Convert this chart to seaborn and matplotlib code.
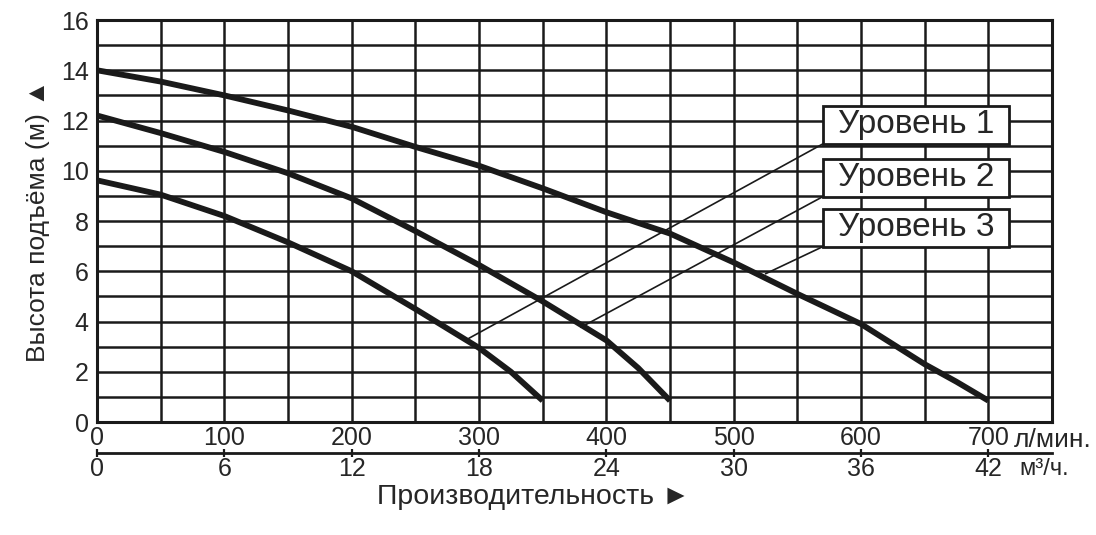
import numpy as np
import pandas as pd
import seaborn as sns
import matplotlib.pyplot as plt
from matplotlib.patches import Rectangle
from matplotlib.ticker import MultipleLocator

# pump curves: flow in l/min, head in m
flow_1 = [0, 50, 100, 150, 200, 250, 300, 325, 350]
head_1 = [9.62, 9.05, 8.2, 7.15, 6.0, 4.5, 2.95, 2.0, 0.85]
flow_2 = [0, 50, 100, 150, 200, 250, 300, 350, 400, 425, 450]
head_2 = [12.2, 11.5, 10.75, 9.9, 8.9, 7.6, 6.25, 4.8, 3.25, 2.15, 0.85]
flow_3 = [0, 50, 100, 150, 200, 250, 300, 350, 400, 450, 500, 550, 600, 650, 675, 700]
head_3 = [14.0, 13.55, 13.0, 12.4, 11.75, 10.95, 10.2, 9.3, 8.35, 7.5, 6.35, 5.1, 3.9, 2.3, 1.6, 0.85]

levels = ["Уровень 1", "Уровень 2", "Уровень 3"]
# where each leader line touches its curve
tip_flow = [292, 380, 525]
tip_head = [3.33, 3.77, 5.9]

lpm_ticks = list(range(0, 701, 100))
m3h_ticks = list(range(0, 43, 6))

df = pd.concat([
    pd.DataFrame({"flow": flow_1, "head": head_1, "level": levels[0]}),
    pd.DataFrame({"flow": flow_2, "head": head_2, "level": levels[1]}),
    pd.DataFrame({"flow": flow_3, "head": head_3, "level": levels[2]}),
])

sns.set_theme(style="white")
plt.rcParams['font.family'] = ['Liberation Sans', 'DejaVu Sans']

fig = plt.figure(figsize=(10.96, 5.35), dpi=100)
ax = fig.add_axes([0.0885, 0.2112, 0.8714, 0.7514])

ink = "#1a1a1a"
txt = "#262626"
sns.lineplot(data=df, x="flow", y="head", hue="level", sort=False,
             palette=[ink, ink, ink], linewidth=4.2, legend=False,
             solid_capstyle="butt", solid_joinstyle="round", ax=ax, zorder=4)

ax.set_xlim(0, 750)
ax.set_ylim(0, 16)
ax.set_xticks(lpm_ticks)
ax.set_yticks(range(0, 17, 2))
ax.xaxis.set_minor_locator(MultipleLocator(50))
ax.yaxis.set_minor_locator(MultipleLocator(1))
ax.grid(True, which="both", color=ink, linewidth=1.8)
ax.set_axisbelow(True)
for s in ax.spines.values():
    s.set_color(ink)
    s.set_linewidth(2.2)
ax.tick_params(which="both", length=0, labelsize=18, colors=txt)
ax.tick_params(axis="x", pad=3)
ax.tick_params(axis="y", pad=6)
ax.set_xlabel("")
ax.set_ylabel("Высота подъёма (м) ▲", fontsize=19, color=txt, labelpad=8)

# second scale in m3/h under the l/min labels
sec = ax.secondary_xaxis(-0.077, functions=(lambda q: q * 0.06, lambda q: q / 0.06))
sec.set_xticks(m3h_ticks)
sec.spines["bottom"].set_linewidth(2)
sec.spines["bottom"].set_color(ink)
sec.tick_params(direction="inout", length=6, width=1.6, pad=0, labelsize=18,
                colors=txt)
sec.tick_params(axis="x", color=ink)

fig.text(1014 / 1096, 1 - 440 / 535, "л/мин.", fontsize=19, va="center", color=txt)
fig.text(1019 / 1096, 1 - 469 / 535, "м³/ч.", fontsize=17, va="center", color=txt)
fig.text(534 / 1096, 1 - 497 / 535, "Производительность ►", fontsize=20.5,
         ha="center", va="center", color=txt)

# labelled boxes with leader lines
box_left, box_w, box_h = 570, 146, 1.51
box_bottoms = [11.07, 8.97, 6.98]
for name, bot, tx, ty in zip(levels, box_bottoms, tip_flow, tip_head):
    ax.plot([tx, box_left], [ty, bot], color=ink, linewidth=1.2, zorder=5)
    ax.add_patch(Rectangle((box_left, bot), box_w, box_h, facecolor="white",
                           edgecolor=ink, linewidth=2, zorder=6))
    ax.text(box_left + box_w / 2, bot + box_h / 2, name, fontsize=24,
            ha="center", va="center", color=txt, zorder=7)

fig.savefig("out.png", dpi=100)
